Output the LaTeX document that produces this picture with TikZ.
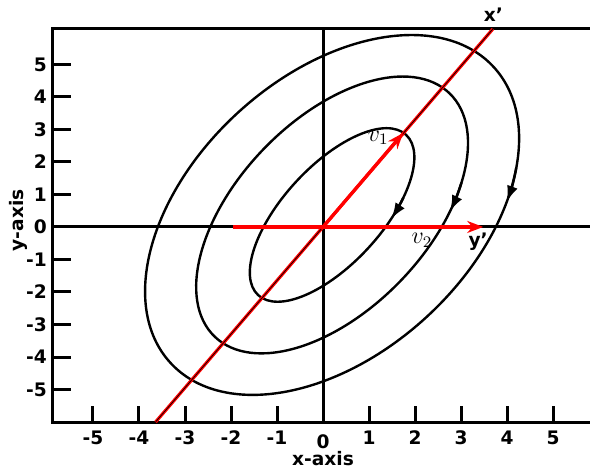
\documentclass[tikz,border=0pt]{standalone}
\usepackage{fontspec}
\setsansfont{DejaVu Sans}
\usetikzlibrary{arrows.meta}
\tikzset{
  axisline/.style={line width=1.5pt},
  contour/.style={line width=1.2pt},
  eigen/.style={red, line width=1.6pt},
  ticklabel/.style={font=\sffamily\bfseries\fontsize{9.3}{11}\selectfont, inner sep=1pt},
  flow/.style={-{Latex[length=8pt,width=5.5pt]}, line width=1.2pt},
}

\begin{document}
\begin{tikzpicture}[x=23pt,y=16.25pt]
\useasboundingbox (-7.02,-7.385) rectangle (5.80,6.98);
% frame and axes
\coordinate (tl) at (-5.89,6.09);
\coordinate (tr) at (5.80,6.09);
\coordinate (bl) at (-5.89,-6);
\coordinate (br) at (5.80,-6);
\coordinate (O) at (0,0);
\coordinate (xl) at (-5.89,0);
\coordinate (xr) at (5.80,0);
\coordinate (yt) at (0,6.09);
\coordinate (yb) at (0,-6);
\draw[axisline] (tr) -- (tl) -- (bl) -- (br);
\draw[axisline] (xl) -- (xr);
\draw[axisline] (yt) -- (yb);
% ticks
\foreach \i in {-5,-4,-3,-2,-1,1,2,3,4,5} {
  \draw[axisline] (-5.89,\i) -- ++(0.41,0);
  \draw[axisline] (\i,-6) -- ++(0,0.5);
  \node[ticklabel, anchor=east] (ly\i) at (-5.95,\i) {\i};
  \node[ticklabel, anchor=north] (lx\i) at (\i,-6.2) {\i};
}
\node[ticklabel, anchor=east] (ly0) at (-5.95,0) {0};
\node[ticklabel, anchor=north] (lx0) at (0,-6.32) {0};
\node[ticklabel] (xname) at (0,-7.12) {x-axis};
\node[ticklabel, rotate=90] (yname) at (-6.63,0.2) {y-axis};
% level curves
\begin{scope}[shift={(0.196,0.369)}, x=0.5pt, y=0.5pt]
  \draw[contour, rotate=42.4] (0,0) ellipse[x radius=219, y radius=139];
  \draw[contour, rotate=46] (0,0) ellipse[x radius=169, y radius=95];
  \draw[contour, rotate=47.3] (0,0) ellipse[x radius=109, y radius=49];
  \draw[flow, rotate=42.4] (-40:219 and 139) arc[start angle=-40, end angle=-51, x radius=219, y radius=139];
  \draw[flow, rotate=46] (-48:169 and 95) arc[start angle=-48, end angle=-60, x radius=169, y radius=95];
  \draw[flow, rotate=47.3] (-56:109 and 49) arc[start angle=-56, end angle=-70, x radius=109, y radius=49];
\end{scope}
% new axes
\coordinate (xb) at (-3.64,-6);
\coordinate (xt) at (3.69,6.09);
\coordinate (v1) at (1.74,2.89);
\coordinate (hs) at (-1.96,0);
\coordinate (v2) at (3.48,0);
\draw[eigen] (xb) -- (xt);
\draw[line width=0.35pt] (xb) -- (xt);
\draw[eigen, -{Stealth[length=8pt,width=6pt]}] (O) -- (v1);
\draw[eigen, -{Stealth[length=8pt,width=6pt]}, yshift=-0.8pt] (hs) -- (v2);
\node[ticklabel] (xprime) at (3.70,6.52) {x'};
\node[ticklabel] (yprime) at (3.37,-0.46) {y'};
\node[font=\large] (v1lab) at (1.2,2.74) {$v_1$};
\node[font=\large] (v2lab) at (2.15,-0.42) {$v_2$};
\end{tikzpicture}
\end{document}
